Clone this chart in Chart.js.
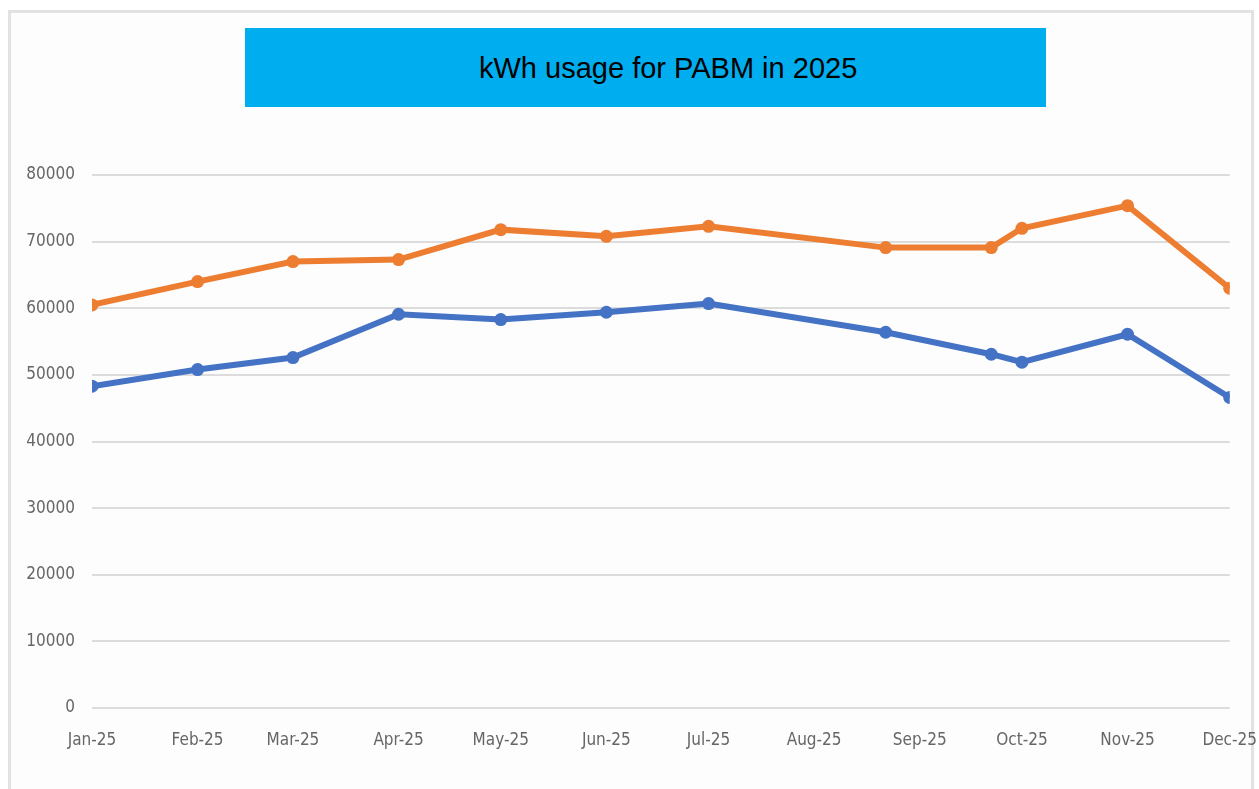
<!DOCTYPE html>
<html>
<head>
<meta charset="utf-8">
<script src="https://cdn.jsdelivr.net/npm/chart.js@4.4.1/dist/chart.umd.min.js"></script>
<style>
  html, body { margin: 0; padding: 0; background: #ffffff; }
  body { width: 1259px; height: 789px; position: relative; overflow: hidden; }
  #frame { position: absolute; left: 8px; top: 10px; width: 1246px; height: 800px;
           border: 3px solid #e2e2e2; background: #fdfdfd; box-sizing: border-box; }
  #titleBox { position: absolute; left: 245px; top: 28px; width: 801px; height: 79px; background: #00AEEF; }
  #titleText { position: absolute; left: 234px; top: 1px; line-height: 79px; white-space: nowrap;
               font-family: "Liberation Sans", Arial, Helvetica, sans-serif; font-size: 29px; color: #000; }
  #wrap { position: absolute; left: 0; top: 0; width: 1279px; height: 789px; }
</style>
</head>
<body>
<div id="frame"></div>
<div id="titleBox"><span id="titleText">kWh usage for PABM in 2025</span></div>
<div id="wrap"><canvas id="c" width="1279" height="789"></canvas></div>
<script>
// Reading dates of each point (x positions follow a date axis)
const readingDates = ["2025-01-01","2025-02-01","2025-03-01","2025-04-01","2025-05-01","2025-06-01",
                      "2025-07-01","2025-08-22","2025-09-22","2025-10-01","2025-11-01","2025-12-01"];
// Upper (orange) series, kWh
const orangeValues = [60500, 64000, 67000, 67300, 71800, 70800, 72300, 69100, 69100, 72000, 75400, 63000];
// Lower (blue) series, kWh
const blueValues   = [48300, 50800, 52600, 59100, 58300, 59400, 60700, 56400, 53100, 51900, 56100, 46600];
// Axis tick labels (month starts)
const tickDates  = ["2025-01-01","2025-02-01","2025-03-01","2025-04-01","2025-05-01","2025-06-01",
                    "2025-07-01","2025-08-01","2025-09-01","2025-10-01","2025-11-01","2025-12-01"];
const tickLabels = ["Jan-25","Feb-25","Mar-25","Apr-25","May-25","Jun-25",
                    "Jul-25","Aug-25","Sep-25","Oct-25","Nov-25","Dec-25"];
const yTicks = [0, 10000, 20000, 30000, 40000, 50000, 60000, 70000, 80000];

const DAY = 86400000;
const base = Date.UTC(2025, 0, 1);
function dayOf(s) { const p = s.split("-").map(Number); return (Date.UTC(p[0], p[1]-1, p[2]) - base) / DAY; }
const tickDays = tickDates.map(dayOf);
const labelByDay = {};
tickDays.forEach((d, i) => { labelByDay[d] = tickLabels[i]; });

const orangePts = readingDates.map((d, i) => ({ x: dayOf(d), y: orangeValues[i] }));
const bluePts   = readingDates.map((d, i) => ({ x: dayOf(d), y: blueValues[i] }));

const tickFont = { family: "'Liberation Sans Narrow', 'DejaVu Sans Condensed', 'Liberation Sans', sans-serif", size: 17 };

new Chart(document.getElementById("c"), {
  type: "line",
  data: {
    datasets: [
      { label: "Series 2", data: orangePts, borderColor: "#ED7D31", backgroundColor: "#ED7D31",
        borderWidth: 6, pointRadius: 6.5, pointHoverRadius: 6.5, pointBorderWidth: 0, tension: 0 },
      { label: "Series 1", data: bluePts, borderColor: "#4472C4", backgroundColor: "#4472C4",
        borderWidth: 6, pointRadius: 6.5, pointHoverRadius: 6.5, pointBorderWidth: 0, tension: 0 }
    ]
  },
  options: {
    responsive: false,
    animation: false,
    layout: { padding: { left: 0, right: 0, top: 175, bottom: 0 } },
    plugins: { legend: { display: false }, title: { display: false }, tooltip: { enabled: false } },
    scales: {
      x: {
        type: "linear",
        min: tickDays[0],
        max: tickDays[tickDays.length - 1],
        afterBuildTicks: (scale) => { scale.ticks = tickDays.map(v => ({ value: v })); },
        afterFit: (scale) => { scale.height = 81; },
        grid: { display: false, drawTicks: false },
        border: { display: false },
        ticks: { color: "#666666", font: tickFont, padding: 22, maxRotation: 0, autoSkip: false,
                 callback: (v) => labelByDay[v] || "" }
      },
      y: {
        min: 0, max: 80000,
        afterBuildTicks: (scale) => { scale.ticks = yTicks.map(v => ({ value: v })); },
        afterFit: (scale) => { scale.width = 92; },
        grid: { color: "#dcdcdc", lineWidth: 2, drawTicks: false },
        border: { display: false },
        ticks: { color: "#666666", font: tickFont, padding: 17, callback: (v) => String(v) }
      }
    }
  }
});
</script>
</body>
</html>
